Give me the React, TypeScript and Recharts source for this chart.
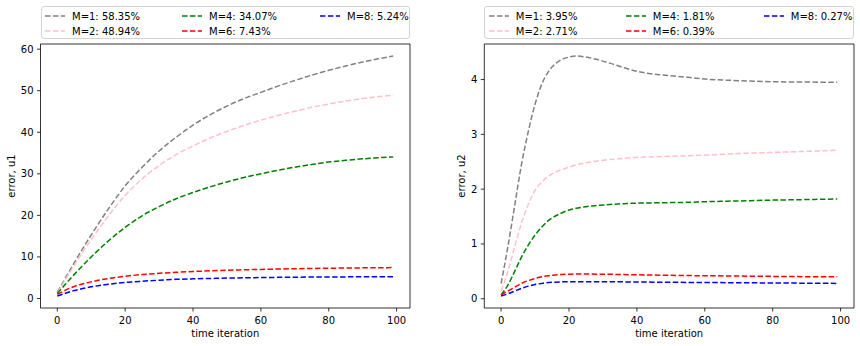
import React from 'react';
import { LineChart, Line, XAxis, YAxis, ReferenceLine } from 'recharts';

// iteration samples
const tLeft = [0, 5, 10, 15, 20, 25, 30, 35, 40, 45, 50, 55, 60, 65, 70, 75, 80, 85, 90, 95, 99];
const tRight = [0, 2, 4, 6, 8, 10, 12, 14, 16, 18, 20, 22, 25, 28, 32, 36, 40, 45, 50, 55, 60, 70, 80, 90, 99];

// error, u1
const u1M1 = [1.5, 8.6, 15.3, 21.5, 27.1, 31.6, 35.5, 38.8, 41.7, 44.2, 46.3, 48.1, 49.6, 51.1, 52.45, 53.75, 54.9, 55.95, 56.9, 57.75, 58.35];
const u1M2 = [1.3, 8.0, 14.2, 19.8, 24.8, 28.8, 32.0, 34.6, 36.7, 38.6, 40.2, 41.65, 42.9, 44.05, 45.05, 46.0, 46.8, 47.5, 48.1, 48.6, 48.94];
const u1M4 = [1.2, 5.8, 10.0, 13.8, 17.1, 19.9, 22.1, 24.0, 25.5, 26.85, 28.05, 29.1, 30.0, 30.85, 31.6, 32.25, 32.85, 33.25, 33.6, 33.9, 34.07];
const u1M6 = [1.0, 2.9, 4.0, 4.8, 5.35, 5.75, 6.05, 6.3, 6.5, 6.65, 6.8, 6.9, 7.0, 7.08, 7.15, 7.22, 7.28, 7.33, 7.37, 7.41, 7.43];
const u1M8 = [0.6, 1.9, 2.8, 3.4, 3.85, 4.15, 4.4, 4.6, 4.72, 4.82, 4.9, 4.97, 5.03, 5.08, 5.12, 5.15, 5.18, 5.2, 5.22, 5.23, 5.24];

// error, u2
const u2M1 = [0.28, 0.95, 1.7, 2.45, 3.05, 3.55, 3.92, 4.15, 4.29, 4.37, 4.41, 4.43, 4.41, 4.37, 4.3, 4.22, 4.15, 4.1, 4.07, 4.04, 4.01, 3.98, 3.96, 3.955, 3.95];
const u2M2 = [0.14, 0.5, 0.95, 1.38, 1.72, 1.98, 2.13, 2.24, 2.31, 2.36, 2.4, 2.44, 2.48, 2.51, 2.54, 2.56, 2.58, 2.59, 2.6, 2.61, 2.62, 2.65, 2.67, 2.69, 2.71];
const u2M4 = [0.07, 0.25, 0.5, 0.76, 0.98, 1.16, 1.31, 1.43, 1.51, 1.57, 1.62, 1.65, 1.68, 1.7, 1.72, 1.735, 1.745, 1.75, 1.755, 1.76, 1.77, 1.785, 1.8, 1.81, 1.82];
const u2M6 = [0.07, 0.14, 0.21, 0.28, 0.33, 0.37, 0.4, 0.42, 0.435, 0.443, 0.447, 0.45, 0.45, 0.449, 0.446, 0.442, 0.437, 0.432, 0.427, 0.423, 0.42, 0.414, 0.408, 0.403, 0.4];
const u2M8 = [0.05, 0.09, 0.14, 0.19, 0.23, 0.26, 0.28, 0.295, 0.303, 0.308, 0.31, 0.312, 0.312, 0.311, 0.31, 0.308, 0.306, 0.303, 0.3, 0.298, 0.296, 0.292, 0.288, 0.284, 0.28];

const labelsU1 = ['M=1: 58.35%', 'M=2: 48.94%', 'M=4: 34.07%', 'M=6: 7.43%', 'M=8: 5.24%'];
const labelsU2 = ['M=1: 3.95%', 'M=2: 2.71%', 'M=4: 1.81%', 'M=6: 0.39%', 'M=8: 0.27%'];

const xTicks = [0, 20, 40, 60, 80, 100];
const u1Ticks = [0, 10, 20, 30, 40, 50, 60];
const u2Ticks = [0, 1, 2, 3, 4];

const X_DOMAIN: [number, number] = [-4.95, 103.95];
const KEYS = ['m1', 'm2', 'm4', 'm6', 'm8'];
const COLORS = ['#808080', '#ffc0cb', '#008000', '#ff0000', '#0000ff'];
const DASH = '5.5 2.4';
const FONT = '"DejaVu Sans", sans-serif';

const buildRows = (ts: number[], series: number[][]) =>
  ts.map((t, i) => {
    const row: Record<string, number> = { t };
    KEYS.forEach((k, j) => (row[k] = series[j][i]));
    return row;
  });

const leftData = buildRows(tLeft, [u1M1, u1M2, u1M4, u1M6, u1M8]);
const rightData = buildRows(tRight, [u2M1, u2M2, u2M4, u2M6, u2M8]);

// matplotlib-style legend, 3 columns filled column by column
const LegendBox: React.FC<{ labels: string[]; left: number; width: number }> = ({ labels, left, width }) => {
  const colX = [3.5, 140.5, 278.5];
  return (
    <div
      style={{
        position: 'absolute', left, top: 6, width, height: 33, boxSizing: 'border-box',
        border: '1px solid #d3d3d3', borderRadius: 3, background: 'rgba(255,255,255,0.8)',
        fontFamily: FONT, fontSize: 10, color: '#000',
      }}
    >
      {labels.map((lab, i) => {
        const col = Math.floor(i / 2);
        const row = i % 2;
        return (
          <div key={lab} style={{ position: 'absolute', left: colX[col], top: 2 + row * 15, height: 14, display: 'flex', alignItems: 'center', whiteSpace: 'nowrap' }}>
            <svg width={20} height={4} style={{ marginRight: 7 }}>
              <line x1={0} y1={2} x2={20} y2={2} stroke={COLORS[i]} strokeWidth={1.5} strokeDasharray={DASH} />
            </svg>
            <span>{lab}</span>
          </div>
        );
      })}
    </div>
  );
};

interface PanelProps {
  data: Record<string, number>[];
  labels: string[];
  yTicks: number[];
  yDomain: [number, number];
  yLabel: string;
  yWidth: number;
  rightMargin: number;
  labelX: number;
  left: number;
}

const axisStyle = { stroke: '#000', strokeWidth: 0.8 };
const tickStyle = { fill: '#000', fontSize: 10, fontFamily: FONT };

const ErrorPanel: React.FC<PanelProps> = ({ data, labels, yTicks, yDomain, yLabel, yWidth, rightMargin, labelX, left }) => {
  const plotW = 430 - yWidth - rightMargin;
  return (
    <div style={{ position: 'absolute', left, top: 0, width: 430, height: 346 }}>
      <LineChart width={430} height={346} data={data} margin={{ top: 44, right: rightMargin, bottom: 0, left: 0 }} style={{ fontFamily: FONT }}>
        <XAxis
          dataKey="t" type="number" domain={X_DOMAIN} ticks={xTicks} allowDataOverflow
          height={38} tickSize={3.5} tickMargin={5} axisLine={axisStyle} tickLine={axisStyle} tick={tickStyle}
          label={({ viewBox }: any) => (
            <text x={viewBox.x + viewBox.width / 2} y={viewBox.y + 29} textAnchor="middle" fontSize={10} fontFamily={FONT} fill="#000">time iteration</text>
          )}
        />
        <YAxis
          type="number" domain={yDomain} ticks={yTicks} allowDataOverflow width={yWidth}
          tickSize={3.5} tickMargin={3.5} axisLine={axisStyle} tickLine={axisStyle} tick={tickStyle}
          label={({ viewBox }: any) => {
            const x = viewBox.x + labelX;
            const y = viewBox.y + viewBox.height / 2;
            return (
              <text x={x} y={y} transform={`rotate(-90, ${x}, ${y})`} textAnchor="middle" dominantBaseline="central" fontSize={10} fontFamily={FONT} fill="#000">{yLabel}</text>
            );
          }}
        />
        {/* top and right spines */}
        <ReferenceLine y={yDomain[1]} stroke="#000" strokeWidth={0.8} ifOverflow="visible" />
        <ReferenceLine x={X_DOMAIN[1]} stroke="#000" strokeWidth={0.8} ifOverflow="visible" />
        {KEYS.map((k, i) => (
          <Line key={k} dataKey={k} type="monotone" stroke={COLORS[i]} strokeWidth={1.5} strokeDasharray={DASH} dot={false} isAnimationActive={false} />
        ))}
      </LineChart>
      <LegendBox labels={labels} left={yWidth} width={plotW} />
    </div>
  );
};

export default function App() {
  return (
    <div style={{ position: 'absolute', left: 0, top: 0, width: 860, height: 346, background: '#fff' }}>
      <ErrorPanel data={leftData} labels={labelsU1} yTicks={u1Ticks} yDomain={[-2.29, 61.24]} yLabel="error, u1" yWidth={40.5} rightMargin={20} labelX={11} left={0} />
      <ErrorPanel data={rightData} labels={labelsU2} yTicks={u2Ticks} yDomain={[-0.169, 4.649]} yLabel="error, u2" yWidth={54.3} rightMargin={6} labelX={31} left={430} />
    </div>
  );
}
